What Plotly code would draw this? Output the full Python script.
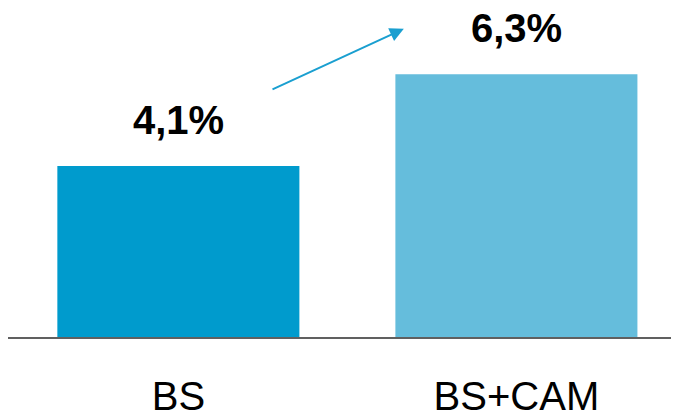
import plotly.graph_objects as go

categories = ["BS", "BS+CAM"]
values = [4.1, 6.3]
value_labels = ["4,1%", "6,3%"]
bar_colors = ["#009BCD", "#65BDDC"]

fig = go.Figure()
fig.add_trace(go.Bar(
    x=categories, y=values, marker=dict(color=bar_colors, line=dict(width=0)),
    width=0.716, hoverinfo="skip",
))

for c, v, t in zip(categories, values, value_labels):
    fig.add_annotation(x=c, y=v, text="<b>" + t + "</b>", showarrow=False, yanchor="bottom",
                       yshift=22, font=dict(family="Liberation Sans", size=40, color="#000000"))

# trend arrow between the bars
fig.add_annotation(x=0.667, y=7.39, ax=0.274, ay=5.92, xref="x", yref="y", axref="x", ayref="y",
                   text="", showarrow=True, arrowhead=2, arrowsize=1.4, arrowwidth=2,
                   arrowcolor="#1A9FD0")

fig.update_layout(
    width=679, height=412,
    margin=dict(l=0, r=8, t=0, b=83),
    paper_bgcolor="white", plot_bgcolor="white",
    showlegend=False,
    font=dict(family="Liberation Sans", color="#000000"),
    xaxis=dict(range=[-0.504, 1.481], showline=True, linecolor="#606060", linewidth=2,
               showgrid=False, zeroline=False, ticks="", tickfont=dict(size=40, color="#000000"),
               ticklabelstandoff=23),
    yaxis=dict(range=[0, 7.89], visible=False, showgrid=False, zeroline=False),
)
fig.write_html("out.html")
